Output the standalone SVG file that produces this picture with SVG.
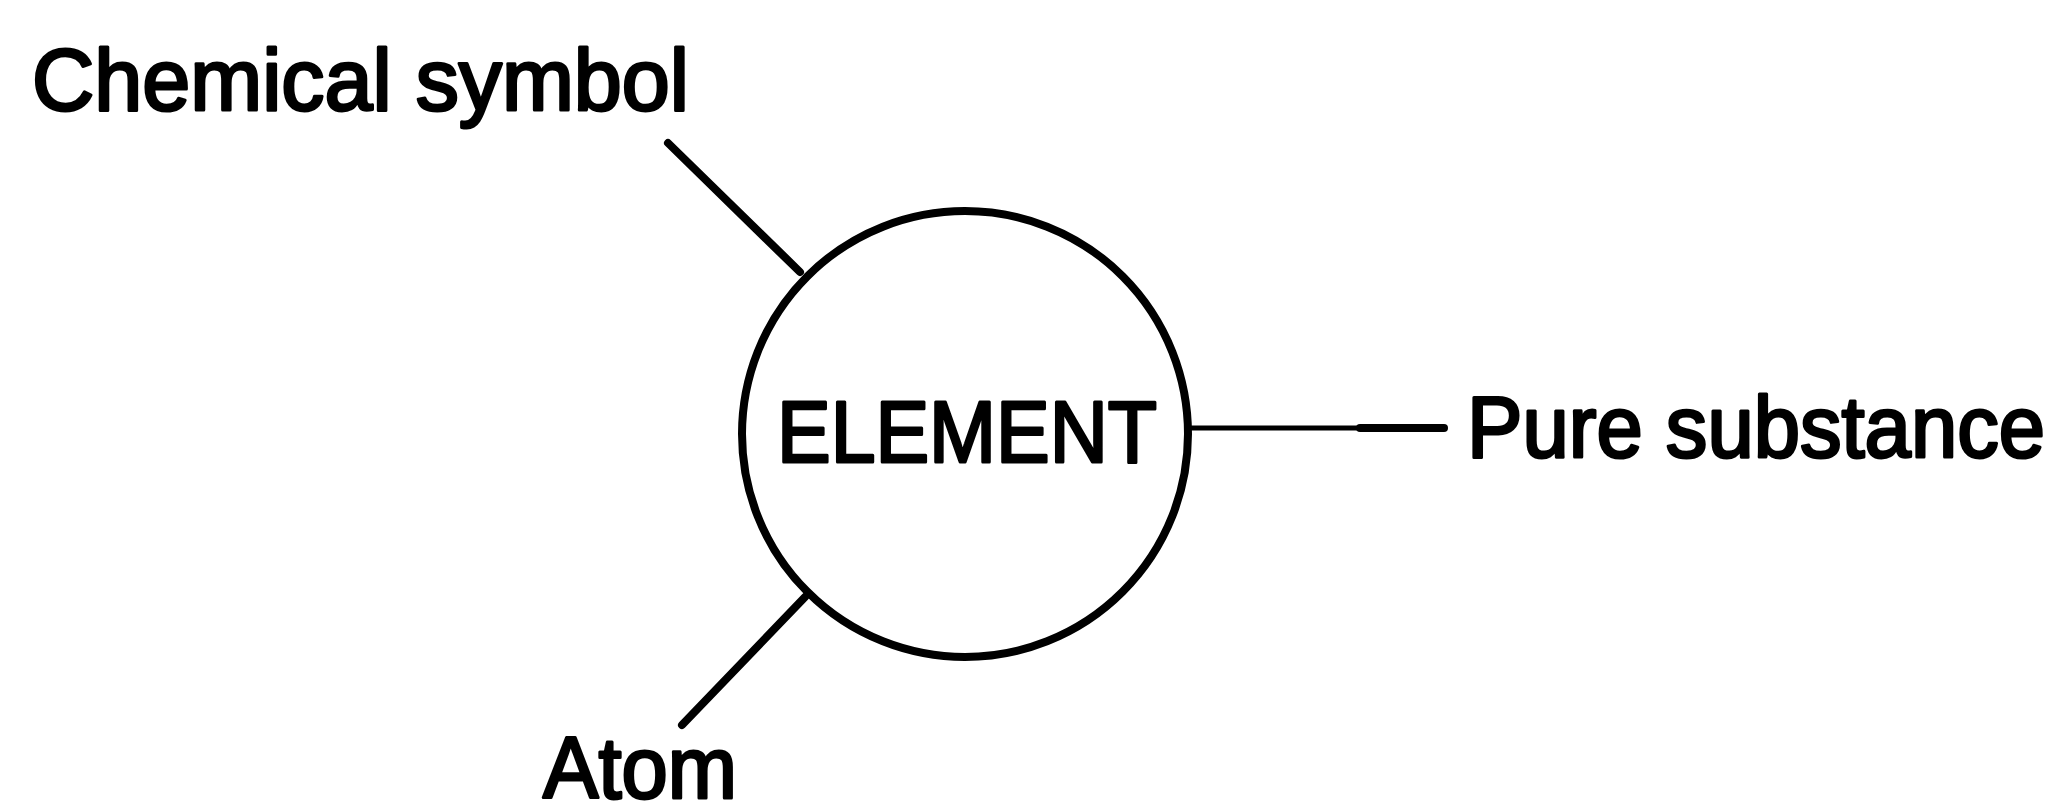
<svg xmlns="http://www.w3.org/2000/svg" width="2061" height="811" viewBox="0 0 2061 811">
<style>
  .lbl { font-family: "Liberation Sans", Arial, Helvetica, sans-serif; font-size: 87px; fill: #000; stroke: #000; stroke-width: 3; stroke-linejoin: round; }
  .edge { stroke: #000; stroke-linecap: round; fill: none; }
  .node { fill: none; stroke: #000; stroke-width: 8; }
</style>
<rect width="2061" height="811" fill="#fff"/>
<g id="connectors">
  <line class="edge" x1="668" y1="143" x2="800" y2="272" stroke-width="8"/>
  <line class="edge" x1="805" y1="597" x2="682" y2="725" stroke-width="8"/>
  <line class="edge" x1="1190" y1="428" x2="1362" y2="428" stroke-width="5" stroke-linecap="butt"/>
  <line class="edge" x1="1360" y1="428" x2="1444" y2="428" stroke-width="8" stroke-linecap="butt"/>
</g>
<g id="element">
  <circle class="node" cx="965" cy="434" r="223"/>
  <text class="lbl" x="777" y="462" textLength="380" lengthAdjust="spacingAndGlyphs">ELEMENT</text>
</g>
<g id="chemical-symbol">
  <text class="lbl" x="32" y="110" textLength="657" lengthAdjust="spacingAndGlyphs">Chemical symbol</text>
</g>
<g id="pure-substance">
  <text class="lbl" x="1467" y="457" textLength="578" lengthAdjust="spacingAndGlyphs">Pure substance</text>
</g>
<g id="atom">
  <text class="lbl" x="543" y="798" font-size="84" textLength="194" lengthAdjust="spacingAndGlyphs">Atom</text>
</g>
</svg>
